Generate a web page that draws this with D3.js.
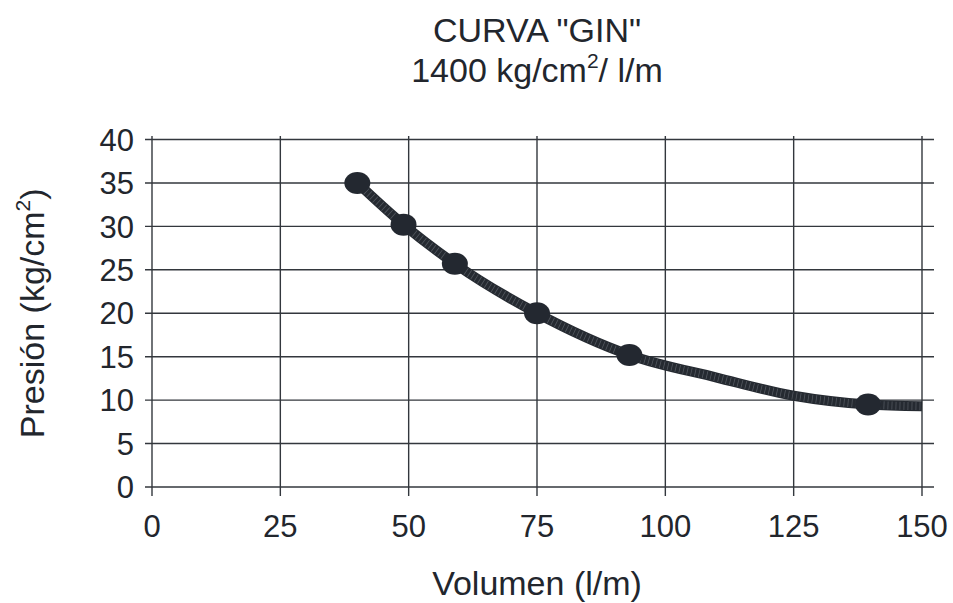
<!DOCTYPE html>
<html>
<head>
<meta charset="utf-8">
<script src="https://cdn.jsdelivr.net/npm/d3@7"></script>
<style>
  body { margin: 0; background: #fff; }
  svg text { font-family: "Liberation Sans", Arial, sans-serif; fill: #22262d; }
</style>
</head>
<body>
<svg class="chart"></svg>
<script>
// Data
var volumen = [40, 49, 59, 75, 93, 139.5];
var presion = [35, 30.2, 25.7, 20, 15.2, 9.5];

// smooth trend curve points
var trendX = [40, 49, 59, 75, 93, 110, 125, 139.5, 150];
var trendY = [35, 30.2, 25.7, 20, 15.2, 12.6, 10.5, 9.5, 9.3];

var xTicks = [0, 25, 50, 75, 100, 125, 150];
var yTicks = [0, 5, 10, 15, 20, 25, 30, 35, 40];

var W = 953, H = 603;
var plotLeft = 152, plotRight = 922, plotTop = 139.5, plotBottom = 487;

var chart = d3.select(".chart")
    .attr("width", W)
    .attr("height", H);

// Scales
var x = d3.scaleLinear().domain([0, 150]).range([plotLeft, plotRight]);
var y = d3.scaleLinear().domain([0, 40]).range([plotBottom, plotTop]);

// Horizontal gridlines (with tick stubs to the left)
chart.selectAll(".hgrid")
        .data(yTicks)
    .enter().append("line")
        .attr("class", "hgrid")
        .attr("x1", plotLeft - 7)
        .attr("x2", plotRight + 12)
        .attr("y1", function(d) { return y(d); })
        .attr("y2", function(d) { return y(d); })
        .attr("stroke", "#33373d")
        .attr("stroke-width", 1.4);

// Vertical gridlines (with tick stubs below)
chart.selectAll(".vgrid")
        .data(xTicks)
    .enter().append("line")
        .attr("class", "vgrid")
        .attr("x1", function(d) { return x(d); })
        .attr("x2", function(d) { return x(d); })
        .attr("y1", plotTop - 3.5)
        .attr("y2", plotBottom + 9)
        .attr("stroke", "#33373d")
        .attr("stroke-width", 1.4);

// Tick labels
chart.selectAll(".ylab")
        .data(yTicks)
    .enter().append("text")
        .attr("class", "ylab")
        .attr("x", plotLeft - 18)
        .attr("y", function(d) { return y(d); })
        .attr("dy", "0.36em")
        .attr("text-anchor", "end")
        .style("font-size", "31px")
        .text(function(d) { return d; });

chart.selectAll(".xlab")
        .data(xTicks)
    .enter().append("text")
        .attr("class", "xlab")
        .attr("x", function(d) { return x(d); })
        .attr("y", plotBottom + 50)
        .attr("text-anchor", "middle")
        .style("font-size", "31px")
        .text(function(d) { return d; });

// Trend curve: thick dark stroke with a light hatch on top
var line = d3.line()
    .x(function(d, i) { return x(trendX[i]); })
    .y(function(d, i) { return y(trendY[i]); })
    .curve(d3.curveMonotoneX);

chart.append("path")
    .datum(trendX)
    .attr("d", line)
    .attr("fill", "none")
    .attr("stroke", "#252a31")
    .attr("stroke-width", 10);

chart.append("path")
    .datum(trendX)
    .attr("d", line)
    .attr("fill", "none")
    .attr("stroke", "#8a8f96")
    .attr("stroke-width", 8)
    .attr("stroke-dasharray", "0.8,3.2")
    .attr("opacity", 0.45);

// Markers
chart.selectAll(".dot")
        .data(volumen)
    .enter().append("ellipse")
        .attr("class", "dot")
        .attr("cx", function(d) { return x(d); })
        .attr("cy", function(d, i) { return y(presion[i]); })
        .attr("rx", 13)
        .attr("ry", 11)
        .attr("fill", "#232830");

// Titles
var title = chart.append("text")
    .attr("x", (plotLeft + plotRight) / 2)
    .attr("y", 42)
    .attr("text-anchor", "middle")
    .style("font-size", "34px");
title.append("tspan").text("CURVA \"GIN\"");

var sub = chart.append("text")
    .attr("x", (plotLeft + plotRight) / 2)
    .attr("y", 82)
    .attr("text-anchor", "middle")
    .style("font-size", "34px");
sub.append("tspan").text("1400 kg/cm");
sub.append("tspan").attr("dy", -14).style("font-size", "21px").text("2");
sub.append("tspan").attr("dy", 14).text("/ l/m");

chart.append("text")
    .attr("x", (plotLeft + plotRight) / 2)
    .attr("y", 595)
    .attr("text-anchor", "middle")
    .style("font-size", "34px")
    .text("Volumen (l/m)");

var ylab = chart.append("text")
    .attr("transform", "translate(44," + ((plotTop + plotBottom) / 2) + ") rotate(-90)")
    .attr("text-anchor", "middle")
    .style("font-size", "34px");
ylab.append("tspan").text("Presión (kg/cm");
ylab.append("tspan").attr("dy", -14).style("font-size", "21px").text("2");
ylab.append("tspan").attr("dy", 14).text(")");
</script>
</body>
</html>
